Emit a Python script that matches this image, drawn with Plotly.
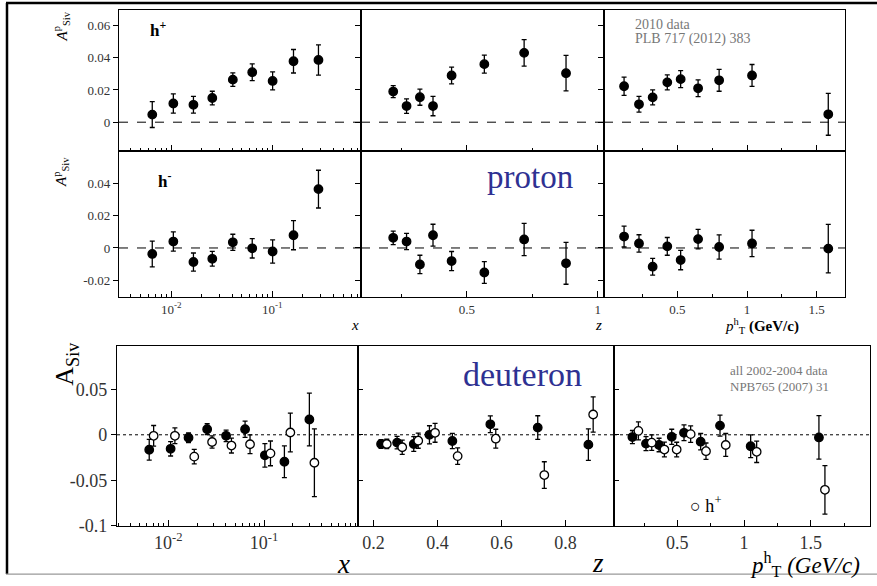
import plotly.graph_objects as go

W, H = 877, 586

# ---------------- data: proton 2010 (top) ----------------
x_bins_p = [0.0065, 0.0105, 0.0166, 0.0255, 0.0407, 0.0633, 0.1007, 0.162, 0.286]
hp_x = [0.0047, 0.0116, 0.0108, 0.0150, 0.0264, 0.0310, 0.0256, 0.0378, 0.0386]
hp_x_err = [0.0080, 0.0060, 0.0052, 0.0042, 0.0042, 0.0052, 0.0056, 0.0073, 0.0094]
hm_x = [-0.0037, 0.0040, -0.0087, -0.0067, 0.0035, -0.0002, -0.0022, 0.0079, 0.0365]
hm_x_err = [0.0080, 0.0060, 0.0056, 0.0046, 0.0050, 0.0060, 0.0072, 0.0090, 0.0117]

z_bins_p = [0.219, 0.270, 0.321, 0.371, 0.442, 0.567, 0.719, 0.879]
hp_z = [0.0190, 0.0100, 0.0155, 0.0100, 0.0290, 0.0360, 0.0430, 0.0304]
hp_z_err = [0.0037, 0.0045, 0.0050, 0.0060, 0.0052, 0.0056, 0.0082, 0.0110]
hm_z = [0.0063, 0.0040, -0.0102, 0.0079, -0.0081, -0.0152, 0.0053, -0.0095]
hm_z_err = [0.0042, 0.0050, 0.0057, 0.0068, 0.0059, 0.0067, 0.0100, 0.0130]

pt_bins_p = [0.118, 0.225, 0.323, 0.428, 0.524, 0.649, 0.800, 1.036, 1.583]
hp_pt = [0.0223, 0.0111, 0.0154, 0.0247, 0.0267, 0.0210, 0.0260, 0.0290, 0.0049]
hp_pt_err = [0.0057, 0.0049, 0.0047, 0.0047, 0.0053, 0.0052, 0.0068, 0.0068, 0.0130]
hm_pt = [0.0071, 0.0028, -0.0116, 0.0010, -0.0075, 0.0055, 0.0006, 0.0028, -0.0004]
hm_pt_err = [0.0065, 0.0054, 0.0052, 0.0055, 0.0060, 0.0060, 0.0075, 0.0082, 0.0150]

# ---------------- data: deuteron 2002-2004 (bottom) ----------------
x_bins_d_neg = [0.00634, 0.0106, 0.0163, 0.0255, 0.0402, 0.0634, 0.102, 0.163, 0.297]
d_neg_x = [-0.0164, -0.0154, -0.0032, 0.0061, -0.0011, 0.0061, -0.0225, -0.0296, 0.0168]
d_neg_x_err = [0.0114, 0.0079, 0.0054, 0.0060, 0.0063, 0.0090, 0.0129, 0.0175, 0.0290]
x_bins_d_pos = [0.00705, 0.01175, 0.0187, 0.0287, 0.0457, 0.0714, 0.1167, 0.188, 0.335]
d_pos_x = [-0.0011, -0.0011, -0.0240, -0.0079, -0.0118, -0.0104, -0.0204, 0.0025, -0.0307]
d_pos_x_err = [0.0113, 0.0086, 0.0079, 0.0068, 0.0082, 0.0102, 0.0136, 0.0213, 0.0373]

z_bins_d_neg = [0.224, 0.274, 0.326, 0.375, 0.4465, 0.565, 0.713, 0.871]
d_neg_z = [-0.0101, -0.0086, -0.0101, 0.0000, -0.0068, 0.0115, 0.0079, -0.0108]
d_neg_z_err = [0.0047, 0.0068, 0.0080, 0.0099, 0.0084, 0.0092, 0.0130, 0.0173]
z_bins_d_pos = [0.2418, 0.290, 0.340, 0.3925, 0.463, 0.582, 0.7335, 0.886]
d_pos_z = [-0.0101, -0.0137, -0.0065, 0.0022, -0.0234, -0.0043, -0.0442, 0.0223]
d_pos_z_err = [0.0052, 0.0079, 0.0083, 0.0104, 0.0090, 0.0104, 0.0146, 0.0194]

pt_bins_d_neg = [0.163, 0.265, 0.363, 0.458, 0.550, 0.675, 0.820, 1.050, 1.562]
d_neg_pt = [-0.0025, -0.0097, -0.0112, -0.0022, 0.0022, -0.0076, 0.0101, -0.0126, -0.0029]
d_neg_pt_err = [0.0072, 0.0076, 0.0074, 0.0083, 0.0086, 0.0090, 0.0115, 0.0124, 0.0239]
pt_bins_d_pos = [0.208, 0.308, 0.403, 0.495, 0.600, 0.715, 0.863, 1.095, 1.607]
d_pos_pt = [0.0043, -0.0086, -0.0162, -0.0162, 0.0007, -0.0180, -0.0112, -0.0187, -0.0604]
d_pos_pt_err = [0.0099, 0.0085, 0.0081, 0.0080, 0.0090, 0.0090, 0.0126, 0.0117, 0.0266]

# tick labels
log_tickvals = [0.01, 0.1]
log_ticktext = ["10<sup>-2</sup>", "10<sup>-1</sup>"]
z_top_ticks = [0.5, 1]
z_top_text = ["0.5", "1"]
z_bot_ticks = [0.2, 0.4, 0.6, 0.8]
z_bot_text = ["0.2", "0.4", "0.6", "0.8"]
pt_ticks = [0.5, 1, 1.5]
pt_text = ["0.5", "1", "1.5"]
top_y_hp_ticks = [0, 0.02, 0.04, 0.06]
top_y_hp_text = ["0", "0.02", "0.04", "0.06"]
top_y_hm_ticks = [-0.02, 0, 0.02, 0.04]
top_y_hm_text = ["-0.02", "0", "0.02", "0.04"]
bot_y_ticks = [-0.1, -0.05, 0, 0.05]
bot_y_text = ["-0.1", "-0.05", "0", "0.05"]

SERIF = "Liberation Serif, Times New Roman, DejaVu Serif, serif"
fig = go.Figure()


def px_x(p):
    return p / W


def px_y(p):
    return 1 - p / H


log_minor = [m * d for d in (0.001, 0.01, 0.1) for m in range(2, 10)]

# panel geometry (pixels)
top_cols = [(119, 361), (361, 604), (604, 845)]
top_rows = [(10, 154), (154, 302)]
bot_cols = [(117, 358), (358, 614), (614, 870)]
bot_row = (352, 535)

xr_top = [[-2.516, -0.123], [0.096, 1.024], [-0.026, 1.703]]
xr_bot = [[-2.534, -0.02], [0.152, 0.951], [0.025, 1.945]]

layout_axes = {}


def base_axis():
    return dict(showline=True, linecolor="black", linewidth=1.2, mirror=True,
                showgrid=False, zeroline=False, tickcolor="black")


def add_axes(idx, xdom, ydom, xrange, yrange, kind, show_xlabels, ylab, show_ylabels,
             bottom, ytick_side):
    fs = 18 if bottom else 13
    tf = dict(family=SERIF, size=fs, color="#333")
    xa = base_axis()
    xa.update(domain=[px_x(xdom[0]), px_x(xdom[1])], anchor="y%d" % idx, range=xrange,
              ticks="inside", ticklen=6, tickmode="array", showticklabels=show_xlabels,
              tickfont=tf)
    if kind == "log":
        xa.update(type="log", tickvals=log_tickvals, ticktext=log_ticktext,
                  minor=dict(tickmode="array", tickvals=log_minor, ticks="inside", ticklen=3,
                             tickcolor="black"))
    elif kind == "z":
        if bottom:
            xa.update(tickvals=z_bot_ticks, ticktext=z_bot_text)
        else:
            xa.update(tickvals=z_top_ticks, ticktext=z_top_text,
                      minor=dict(tickmode="array", tickvals=[0.25, 0.75], ticks="inside",
                                 ticklen=3, tickcolor="black"))
    else:
        xa.update(tickvals=pt_ticks, ticktext=pt_text,
                  minor=dict(tickmode="array", tickvals=[0.25, 0.75, 1.25, 1.75],
                             ticks="inside", ticklen=3, tickcolor="black"))
    ya = base_axis()
    ya.update(domain=[px_y(ydom[1]), px_y(ydom[0])], anchor="x%d" % idx, range=yrange,
              tickmode="array", tickvals=ylab[0], ticktext=ylab[1], ticks=ytick_side,
              ticklen=5, showticklabels=show_ylabels, tickfont=tf)
    key = "" if idx == 1 else str(idx)
    layout_axes["xaxis" + key] = xa
    layout_axes["yaxis" + key] = ya


# top rows
rows = [(top_rows[0], [-0.0181, 0.0697], top_y_hp_ticks, top_y_hp_text),
        (top_rows[1], [-0.0303, 0.0599], top_y_hm_ticks, top_y_hm_text)]
for r, (ydom, yr, ytv, ytt) in enumerate(rows):
    for c in range(3):
        idx = r * 3 + c + 1
        add_axes(idx, top_cols[c], ydom, xr_top[c], yr, ["log", "z", "pt"][c], r == 1,
                 (ytv, ytt), c == 0, False, "outside")
# bottom row
for c in range(3):
    idx = 7 + c
    add_axes(idx, bot_cols[c], bot_row, xr_bot[c], [-0.1, 0.0975], ["log", "z", "pt"][c], True,
             (bot_y_ticks, bot_y_text), c == 0, True, "outside" if c == 0 else "inside")


def add_pts(idx, xs, ys, es, filled=True, size=8.5):
    key = "" if idx == 1 else str(idx)
    fig.add_trace(go.Scatter(
        x=xs, y=ys, mode="markers", xaxis="x" + key, yaxis="y" + key,
        marker=dict(size=size, color="black" if filled else "white",
                    line=dict(color="black", width=1.3)),
        error_y=dict(type="data", array=es, color="black", thickness=1.3, width=2.5),
        showlegend=False, cliponaxis=False))


add_pts(1, x_bins_p, hp_x, hp_x_err)
add_pts(2, z_bins_p, hp_z, hp_z_err)
add_pts(3, pt_bins_p, hp_pt, hp_pt_err)
add_pts(4, x_bins_p, hm_x, hm_x_err)
add_pts(5, z_bins_p, hm_z, hm_z_err)
add_pts(6, pt_bins_p, hm_pt, hm_pt_err)
add_pts(7, x_bins_d_neg, d_neg_x, d_neg_x_err)
add_pts(7, x_bins_d_pos, d_pos_x, d_pos_x_err, filled=False)
add_pts(8, z_bins_d_neg, d_neg_z, d_neg_z_err)
add_pts(8, z_bins_d_pos, d_pos_z, d_pos_z_err, filled=False)
add_pts(9, pt_bins_d_neg, d_neg_pt, d_neg_pt_err)
add_pts(9, pt_bins_d_pos, d_pos_pt, d_pos_pt_err, filled=False)

shapes = []
for idx in range(1, 10):
    key = "" if idx == 1 else str(idx)
    shapes.append(dict(type="line", xref="x" + key + " domain", yref="y" + key,
                       x0=0, x1=1, y0=0, y1=0,
                       line=dict(color="black", width=1, dash="dash" if idx <= 6 else "dot"),
                       layer="below"))
# outer frame
shapes.append(dict(type="line", xref="paper", yref="paper", x0=px_x(7), x1=px_x(7),
                   y0=px_y(3), y1=px_y(584), line=dict(color="black", width=2.5)))
shapes.append(dict(type="line", xref="paper", yref="paper", x0=px_x(6), x1=1,
                   y0=px_y(3), y1=px_y(3), line=dict(color="black", width=2.5)))
shapes.append(dict(type="line", xref="paper", yref="paper", x0=px_x(6), x1=1,
                   y0=px_y(584), y1=px_y(584), line=dict(color="#999", width=1.2)))

annotations = []


def ann(text, x, y, size, color="black", angle=0, xanchor="center"):
    annotations.append(dict(text=text, x=px_x(x), y=px_y(y), xref="paper", yref="paper",
                            showarrow=False, font=dict(family=SERIF, size=size, color=color),
                            textangle=angle, xanchor=xanchor, yanchor="middle"))


ann("<b>h<sup>+</sup></b>", 158, 30, 17)
ann("<b>h<sup>-</sup></b>", 164, 183, 17)
ann("2010 data", 633, 25, 14, color="#777", xanchor="left")
ann("PLB 717 (2012) 383", 633, 40, 14, color="#777", xanchor="left")
ann("proton", 530, 180, 33, color="#2E3192")
ann("deuteron", 522, 381, 34, color="#2E3192")
ann("all 2002-2004 data", 779, 377, 13, color="#777")
ann("NPB765 (2007) 31", 779, 393, 13, color="#777")
ann("○ h<sup>+</sup>", 705, 513, 18)
ann("<i>A</i><sup>p</sup><sub>Siv</sub>", 61, 27, 15, angle=-90)
ann("<i>A</i><sup>p</sup><sub>Siv</sub>", 61, 175, 15, angle=-90)
ann("A<sub>Siv</sub>", 66, 370, 26, angle=-90)
ann("<i>x</i>", 355, 331, 15)
ann("<i>z</i>", 598, 331, 15)
ann("<i>p</i><sup>h</sup><sub>T</sub> <b>(GeV/c)</b>", 762, 332, 15)
ann("<i>x</i>", 343, 574, 27)
ann("<i>z</i>", 598, 573, 27)
ann("<i>p</i><sup>h</sup><sub>T</sub> <i>(GeV/c)</i>", 805, 574, 23)

fig.update_layout(width=W, height=H, margin=dict(l=0, r=0, t=0, b=0),
                  paper_bgcolor="white", plot_bgcolor="white", showlegend=False,
                  shapes=shapes, annotations=annotations, **layout_axes)
fig.write_html("out.html")
